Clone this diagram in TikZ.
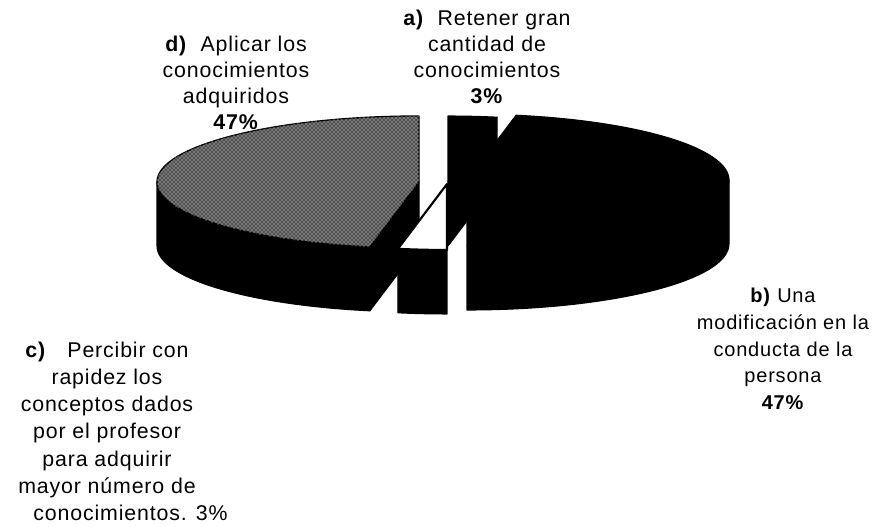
\documentclass[tikz,border=0pt]{standalone}
\usepackage{fontspec}
\setmainfont{Liberation Sans}
\newfontfamily\lblfont[LetterSpace=4]{Liberation Sans}
\usepackage{tikz}
\usetikzlibrary{patterns}

\begin{document}
\begin{tikzpicture}[x=0.75pt,y=0.75pt,yscale=-1,
    sideface/.style={fill={rgb, 255:red, 0; green, 0; blue, 0 },draw=black,line width=0.8pt,line join=round},
    topgray/.style={fill={rgb, 255:red, 80; green, 80; blue, 80 },postaction={pattern=crosshatch dots,pattern color=white},draw=black,line width=1pt,line join=round},
    topblack/.style={fill=black,draw=black,line width=0.8pt,line join=round},
    topwhite/.style={fill=white,draw=black,line width=1.6pt,line join=round},
    lbl/.style={anchor=north,align=center,inner sep=0pt,font=\lblfont\fontsize{16}{19.5}\selectfont}]
\useasboundingbox (0,0) rectangle (872,526);

%Slice d: side and cut face
\draw [sideface] (157,182) arc[start angle=-180,end angle=-259.2,x radius=262,y radius=66] -- ++(0,64) arc[start angle=-259.2,end angle=-180,x radius=262,y radius=66] -- cycle ;
\draw [sideface] (419,182) -- (369.9,246.8) -- (369.9,310.8) -- (419,246) -- cycle ;
%Slice d: top
\draw [topgray] (419,182) -- (419,116) arc[start angle=-90,end angle=-259.2,x radius=262,y radius=66] -- cycle ;

%Slice a: cut face and top
\draw [sideface] (448,182) -- (497.1,117.2) -- (497.1,181.2) -- (448,246) -- cycle ;
\draw [topblack] (448,182) -- (448,116) arc[start angle=-90,end angle=-79.2,x radius=262,y radius=66] -- cycle ;

%Slice b: side and top
\draw [sideface] (729,180) arc[start angle=0,end angle=90,x radius=262,y radius=66] -- ++(0,64) arc[start angle=90,end angle=0,x radius=262,y radius=66] -- cycle ;
\draw [topblack] (467,180) -- (516.1,115.2) arc[start angle=-79.2,end angle=90,x radius=262,y radius=66] -- cycle ;

%Slice c: side and top
\draw [sideface] (397.9,248.8) arc[start angle=100.8,end angle=90,x radius=262,y radius=66] -- ++(0,64) arc[start angle=90,end angle=100.8,x radius=262,y radius=66] -- cycle ;
\draw [topwhite] (447,184) -- (397.9,248.8) arc[start angle=100.8,end angle=90,x radius=262,y radius=66] -- cycle ;

% Text Node
\node [lbl] (lbla) at (487,10) {\textbf{a)}~ Retener gran\\cantidad de\\conocimientos\\\textbf{3\%}};
% Text Node
\node [lbl] (lbld) at (236,36) {\textbf{d)}~ Aplicar los\\conocimientos\\adquiridos\\\textbf{47\%}};
% Text Node
\node [lbl,font=\lblfont\fontsize{15}{20}\selectfont] (lblb) at (783,288) {\textbf{b)} Una\\modificación en la\\conducta de la\\persona\\\textbf{47\%}};
% Text Node
\node [lbl,font=\lblfont\fontsize{16}{20.3}\selectfont] (lblc) at (107,342) {\textbf{c)}\quad Percibir con\\rapidez los\\conceptos dados\\por el profesor\\para adquirir\\mayor número de\\\hspace*{2.2em}conocimientos. 3\%};
\end{tikzpicture}
\end{document}
